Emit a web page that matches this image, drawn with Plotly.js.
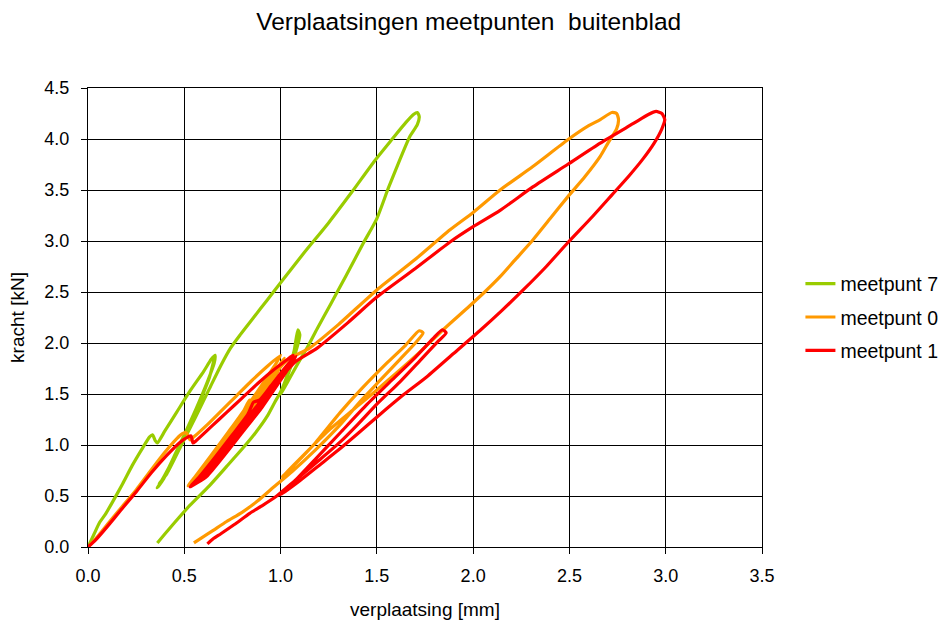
<!DOCTYPE html>
<html>
<head>
<meta charset="utf-8">
<script src="https://cdn.plot.ly/plotly-3.0.1.min.js"></script>
<style>html,body{margin:0;padding:0;background:#fff;}#chart{width:943px;height:628px;}</style>
</head>
<body>
<div id="chart"></div>
<script>
// meetpunt 7 (green)
const x7 = [0,0.03,0.06,0.09,0.13,0.18,0.23,0.28,0.32,0.335,0.35,0.36,
  0.40,0.46,0.53,0.60,0.64,0.66,0.655,0.62,0.56,0.49,0.42,0.37,0.36,
  0.39,0.45,0.52,0.58,0.63,0.655,0.64,0.59,0.52,0.45,0.39,0.37,
  0.41,0.48,0.56,0.63,0.69,0.74,0.79,
  0.86,0.93,1.00,1.12,1.25,1.37,1.49,1.58,1.65,1.69,1.71,1.72,1.71,
  1.67,1.62,1.56,1.50,1.43,1.34,1.26,1.19,1.14,1.09,1.04,1.00,
  1.03,1.07,1.09,1.10,1.08,1.04,1.00,0.97,
  0.93,0.87,0.80,0.72,0.63,0.53,0.45,0.40,0.36];
const y7 = [0,0.12,0.24,0.32,0.45,0.62,0.80,0.96,1.08,1.10,1.04,1.02,
  1.14,1.32,1.53,1.72,1.84,1.88,1.80,1.62,1.35,1.06,0.78,0.61,0.58,
  0.66,0.88,1.15,1.42,1.66,1.84,1.72,1.48,1.18,0.90,0.66,0.62,
  0.72,0.98,1.28,1.55,1.78,1.95,2.08,
  2.25,2.42,2.59,2.88,3.18,3.48,3.79,4.00,4.16,4.24,4.26,4.22,4.14,
  4.02,3.80,3.52,3.22,2.98,2.66,2.38,2.14,1.96,1.80,1.63,1.50,
  1.66,1.92,2.13,2.08,1.92,1.70,1.52,1.42,
  1.28,1.12,0.96,0.79,0.60,0.41,0.24,0.13,0.04];

// meetpunt 0 (orange)
const x0 = [0,0.04,0.10,0.17,0.25,0.33,0.40,0.46,0.49,0.51,0.53,0.55,
  0.62,0.70,0.77,0.85,0.93,1.00,
  0.97,0.90,0.82,0.73,0.64,0.56,0.52,
  0.56,0.64,0.73,0.81,0.84,0.86,0.88,0.94,1.00,1.02,
  0.98,0.90,0.80,0.70,0.60,0.54,
  0.59,0.68,0.77,0.86,0.94,1.00,
  0.96,0.88,0.78,0.68,0.59,0.53,
  0.60,0.70,0.80,0.90,0.98,1.04,
  1.15,1.30,1.50,1.70,1.88,2.00,2.14,2.31,2.49,2.60,2.66,2.72,2.745,2.755,
  2.745,2.70,2.66,2.58,2.49,2.40,2.31,2.22,2.14,2.06,1.98,1.85,1.70,1.50,1.38,1.26,1.14,1.01,
  1.08,1.18,1.31,1.42,1.55,1.65,1.72,1.74,1.70,1.62,1.52,1.42,1.31,1.18,1.06,0.96,0.88,0.80,0.72,0.64,0.59,0.55];
const y0 = [0,0.08,0.22,0.38,0.56,0.76,0.93,1.06,1.11,1.12,1.05,1.08,
  1.20,1.35,1.48,1.63,1.77,1.88,
  1.78,1.58,1.36,1.12,0.88,0.68,0.60,
  0.70,0.90,1.13,1.34,1.44,1.42,1.46,1.62,1.80,1.85,
  1.70,1.48,1.22,0.96,0.72,0.62,
  0.73,0.96,1.20,1.44,1.64,1.80,
  1.66,1.44,1.18,0.92,0.70,0.61,
  0.76,1.00,1.26,1.52,1.72,1.84,
  1.95,2.18,2.52,2.82,3.11,3.28,3.50,3.73,3.99,4.13,4.19,4.26,4.25,4.19,
  4.10,3.96,3.83,3.63,3.43,3.22,3.01,2.82,2.65,2.50,2.36,2.14,1.87,1.54,1.35,1.16,0.94,0.69,
  0.82,1.02,1.32,1.55,1.80,1.98,2.12,2.10,2.00,1.84,1.64,1.44,1.20,0.95,0.74,0.58,0.45,0.34,0.25,0.15,0.09,0.04];

// meetpunt 1 (red)
const x1 = [0,0.04,0.10,0.17,0.25,0.33,0.41,0.48,0.52,0.535,0.545,0.56,
  0.64,0.72,0.80,0.88,0.96,1.03,1.065,
  1.05,0.98,0.90,0.80,0.70,0.61,0.54,0.53,
  0.57,0.66,0.75,0.83,0.86,0.89,0.95,1.02,1.07,
  1.03,0.94,0.84,0.73,0.63,0.55,
  0.60,0.69,0.78,0.87,0.96,1.04,1.08,
  1.04,0.95,0.85,0.74,0.64,0.56,0.54,
  0.61,0.71,0.81,0.91,1.00,1.08,
  1.19,1.35,1.50,1.70,1.88,2.00,2.14,2.31,2.49,2.66,2.83,2.91,2.95,2.98,2.995,
  2.98,2.94,2.88,2.81,2.72,2.62,2.49,2.38,2.26,2.15,2.04,1.90,1.76,1.63,1.51,1.40,1.30,1.20,1.10,1.00,
  1.08,1.18,1.31,1.45,1.58,1.70,1.79,1.84,1.86,1.82,1.73,1.62,1.50,1.40,1.31,1.20,1.08,0.98,0.90,0.84,0.76,0.69,0.65,0.62];
const y1 = [0,0.07,0.20,0.36,0.54,0.73,0.90,1.03,1.08,1.09,1.02,1.04,
  1.18,1.32,1.46,1.60,1.73,1.83,1.88,
  1.78,1.58,1.36,1.12,0.88,0.68,0.60,0.59,
  0.67,0.88,1.10,1.30,1.42,1.44,1.58,1.75,1.86,
  1.72,1.48,1.22,0.96,0.72,0.61,
  0.70,0.92,1.14,1.36,1.58,1.78,1.87,
  1.76,1.52,1.28,1.02,0.78,0.63,0.60,
  0.74,0.98,1.22,1.46,1.66,1.82,
  1.95,2.20,2.45,2.73,2.99,3.14,3.30,3.53,3.75,3.96,4.15,4.24,4.27,4.25,4.19,
  4.10,3.96,3.80,3.64,3.45,3.24,2.98,2.75,2.52,2.32,2.13,1.90,1.67,1.48,1.29,1.11,0.95,0.80,0.65,0.51,
  0.66,0.86,1.12,1.40,1.64,1.86,2.04,2.13,2.10,2.02,1.84,1.62,1.40,1.20,1.03,0.85,0.66,0.50,0.40,0.33,0.22,0.13,0.08,0.03];

const seriesNames = ['meetpunt 7','meetpunt 0','meetpunt 1'];
const seriesColors = ['#99CC00','#FF9900','#FF0000'];
const xs = [x7, x0, x1];
const ys = [y7, y0, y1];

const FONT = 'Liberation Sans, Arial, sans-serif';
const traces = seriesNames.map((n, i) => ({
  type: 'scatter', mode: 'lines', name: n, x: xs[i], y: ys[i],
  legendgroup: 'g' + i,
  line: {color: seriesColors[i], width: 3.2, shape: 'spline', smoothing: 0.6}
}));

const layout = {
  width: 943, height: 628,
  paper_bgcolor: '#ffffff', plot_bgcolor: '#ffffff',
  margin: {l: 88, r: 181, t: 88, b: 81, autoexpand: false},
  font: {family: FONT, color: '#000', size: 18},
  title: {text: 'Verplaatsingen meetpunten  buitenblad', font: {family: FONT, size: 24.5, color: '#000'},
          x: 0.497, xref: 'container', xanchor: 'center', y: 0.966, yref: 'container', yanchor: 'middle'},
  xaxis: {range: [0, 3.5], dtick: 0.5, tick0: 0, tickformat: '.1f',
          showgrid: true, gridcolor: '#000', gridwidth: 1, zeroline: false,
          showline: true, linecolor: '#000', linewidth: 1, mirror: true,
          ticks: 'outside', ticklen: 6, tickcolor: '#000', ticklabelstandoff: 6,
          tickfont: {family: FONT, size: 18, color: '#000'},
          title: {text: 'verplaatsing [mm]', font: {family: FONT, size: 19, color: '#000'}, standoff: 18}},
  yaxis: {range: [0, 4.5], dtick: 0.5, tick0: 0, tickformat: '.1f',
          showgrid: true, gridcolor: '#000', gridwidth: 1, zeroline: false,
          showline: true, linecolor: '#000', linewidth: 1, mirror: true,
          ticks: 'outside', ticklen: 6, tickcolor: '#000', ticklabelstandoff: 8,
          tickfont: {family: FONT, size: 18, color: '#000'},
          title: {text: 'kracht [kN]', font: {family: FONT, size: 19, color: '#000'}, standoff: 14}},
  showlegend: true,
  legend: {x: 1.057, xanchor: 'left', y: 0.5, yanchor: 'middle', tracegroupgap: 5,
           font: {family: FONT, size: 19.5, color: '#000'}, bgcolor: 'rgba(0,0,0,0)', borderwidth: 0}
};

Plotly.newPlot('chart', traces, layout, {displayModeBar: false, staticPlot: true});
</script>
</body>
</html>
